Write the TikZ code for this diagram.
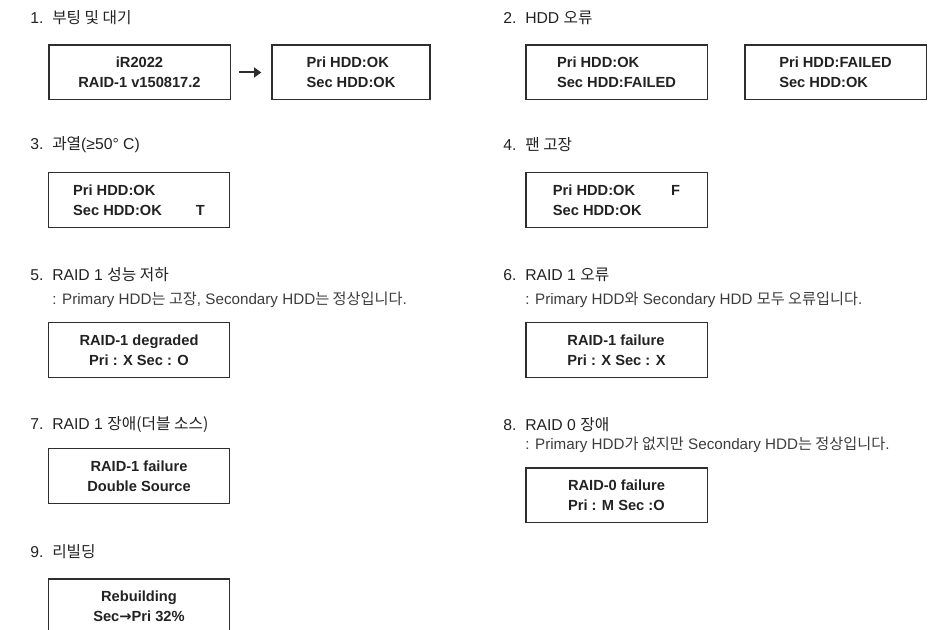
\documentclass[tikz,border=0pt]{standalone}
\usepackage{fontspec}
\setmainfont{Liberation Sans}
\newfontfamily\kofont{Noto Sans CJK KR}
\newfontfamily\symfont{DejaVu Sans}
\usetikzlibrary{arrows.meta,positioning}
\definecolor{cink}{HTML}{222222}
\definecolor{cnote}{HTML}{3C3C3C}
\definecolor{cedge}{HTML}{2E2E2E}
\newcommand{\ko}[1]{{\kofont #1}}
\newcommand{\ttl}[2]{\makebox[16.5pt][l]{#1}#2}
\tikzset{
  >={Triangle[length=5.5pt,width=7.5pt]},
  lcd/.style={draw=cedge,line width=1pt,minimum width=136pt,minimum height=41pt,inner sep=0pt,
              font=\bfseries\fontsize{11}{15}\selectfont,text=cink,align=#1},
  lcd/.default=center,
  hd/.style={anchor=west,inner sep=0pt,font=\fontsize{11.8}{14}\selectfont,text=cink},
  sub/.style={anchor=west,inner sep=0pt,font=\fontsize{11.4}{14}\selectfont,text=cnote},
}

\begin{document}
\begin{tikzpicture}[x=0.75pt,y=-0.75pt]
\clip (0,0) rectangle (947,630);

% titles, left and right column
\node[hd] (h1) at (30,18)  {\ttl{1.}{\ko{부팅 및 대기}}};
\node[hd] (h2) at (503,18) {\ttl{2.}{HDD \ko{오류}}};
\node[hd] (h3) at (30,145)  {\ttl{3.}{\ko{과열}(≥50° C)}};
\node[hd] (h4) at (503,145) {\ttl{4.}{\ko{팬 고장}}};
\node[hd] (h5) at (30,275)  {\ttl{5.}{RAID 1 \ko{성능 저하}}};
\node[hd] (h6) at (503,275) {\ttl{6.}{RAID 1 \ko{오류}}};
\node[hd] (h7) at (30,425)  {\ttl{7.}{RAID 1 \ko{장애(더블 소스)}}};
\node[hd] (h8) at (503,425) {\ttl{8.}{RAID 0 \ko{장애}}};
\node[hd] (h9) at (30,552)  {\ttl{9.}{\ko{리빌딩}}};

\node[sub] (n5) at (52,300)  {: Primary HDD\ko{는 고장}, Secondary HDD\ko{는 정상입니다}.};
\node[sub] (n6) at (525,300) {: Primary HDD\ko{와} Secondary HDD \ko{모두 오류입니다}.};
\node[sub] (n8) at (525,445) {: Primary HDD\ko{가 없지만} Secondary HDD\ko{는 정상입니다}.};

% lcd screens
\node[lcd] (b1a) at (139.5,72.5) {iR2022\\RAID-1 v150817.2};
\node[lcd=left,minimum width=118.5pt] (b1b) at (351,72.5) {Pri HDD:OK\\Sec HDD:OK};
\node[lcd=left] (b2a) at (616.5,72.5) {Pri HDD:OK\\Sec HDD:FAILED};
\node[lcd=left] (b2b) at (835.5,72.5) {Pri HDD:FAILED\\Sec HDD:OK};
\node[lcd=left] (b3) at (139,200) {Pri HDD:OK\\Sec HDD:OK\hspace{25.5pt}T};
\node[lcd=left] (b4) at (616.5,200) {Pri HDD:OK\hspace{27pt}F\\Sec HDD:OK};
\node[lcd] (b5) at (139,350) {RAID-1 degraded\\Pri : X Sec : O};
\node[lcd=left] (b6) at (616.5,350) {RAID-1 failure\\Pri : X Sec : X};
\node[lcd] (b7) at (139,476) {RAID-1 failure\\Double Source};
\node[lcd=left] (b8) at (616.5,495.5) {RAID-0 failure\\Pri : M Sec :O};
\node[lcd] (b9) at (139,606.5) {Rebuilding\\Sec{\symfont →}Pri 32\%};

\draw[->,cedge,line width=1.5pt,shorten <=6pt,shorten >=7.5pt] (b1a) -- (b1b);

\end{tikzpicture}
\end{document}
